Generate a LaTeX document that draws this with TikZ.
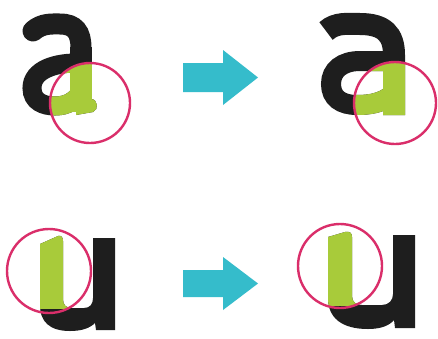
\documentclass[tikz,border=0pt]{standalone}
\definecolor{inkblack}{HTML}{1E1E1E}
\definecolor{limegreen}{HTML}{A8CB3A}
\definecolor{arrowteal}{HTML}{35BCCB}
\definecolor{ringpink}{HTML}{DA2E6A}
\tikzset{
  ring/.style={draw=ringpink, line width=2.4pt},
  bigarrow/.style={fill=arrowteal, draw=none},
}
% left "a" (humanist)
\newcommand{\leftA}[1]{%
  \draw[#1, line width=21pt, line cap=round]
    (33,31) .. controls (42,23) and (52,24) .. (60,24)
    .. controls (75,24) and (81,32) .. (81,48);
  \draw[#1, line width=22pt, line cap=butt] (81,47) -- (81,112);
  \draw[#1, line width=19pt]
    (82,63) .. controls (55,62) and (32,70) .. (32,88)
    .. controls (32,102) and (44,106) .. (55,106)
    .. controls (68,106) and (76,100) .. (81,92);
  \fill[#1] (76,99) -- (91,99) .. controls (98,99) and (99,110) .. (93,112)
    -- (76,115) -- cycle;
}
% right "a" (geometric)
\newcommand{\rightA}[1]{%
  \draw[#1, line width=22pt, line cap=butt]
    (326,31) .. controls (336,22) and (348,24) .. (360,24)
    .. controls (384,24) and (394,34) .. (394,55) -- (394,115);
  \draw[#1, line width=20pt]
    (395,61) -- (360,61) .. controls (342,61) and (331,70) .. (331,84)
    .. controls (331,98) and (341,105) .. (357,105)
    .. controls (376,105) and (388,100) .. (394,92);
}
% left "u"
\newcommand{\leftU}[1]{%
  \fill[#1] (40,244) -- (58,236) .. controls (61,235) and (63,237) .. (63,241)
    -- (63,299) .. controls (63,305) and (66,308) .. (72,308) -- (84,308)
    .. controls (90,308) and (93,304) .. (93,298) -- (93,238) -- (115,238)
    -- (115,330) -- (96,330) -- (95,323)
    .. controls (90,328) and (82,331) .. (70,331)
    .. controls (50,331) and (40,322) .. (40,305) -- cycle;
}
% right "u"
\newcommand{\rightU}[1]{%
  \fill[#1] (328,237) -- (345,232) .. controls (350,231) and (352,233) .. (352,237)
    -- (352,296) .. controls (352,302) and (356,305) .. (362,305) -- (382,305)
    .. controls (389,305) and (393,300) .. (393,294) -- (393,235) -- (415,235)
    -- (415,328) -- (395,328) -- (394,320)
    .. controls (389,326) and (380,329) .. (368,329)
    .. controls (342,329) and (328,318) .. (328,298) -- cycle;
}
\begin{document}
\begin{tikzpicture}[x=1pt, y=-1pt]
  \useasboundingbox[fill=white] (0,0) rectangle (438,338);
  % letters in black
  \leftA{inkblack}
  \rightA{inkblack}
  \leftU{inkblack}
  \rightU{inkblack}
  % green parts inside rings
  \begin{scope}
    \clip (90,103) circle[radius=40];
    \leftA{limegreen}
  \end{scope}
  \begin{scope}
    \clip (395,103) circle[radius=41];
    \rightA{limegreen}
  \end{scope}
  \begin{scope}
    \clip (49,271) circle[radius=42];
    \clip (0,0) rectangle (438,308);
    \leftU{limegreen}
  \end{scope}
  \begin{scope}
    \clip (340,266) circle[radius=42];
    \clip (0,0) rectangle (438,305);
    \rightU{limegreen}
  \end{scope}
  % rings
  \draw[ring] (90,103) circle[radius=40];
  \draw[ring] (395,103) circle[radius=41];
  \draw[ring] (49,271) circle[radius=42];
  \draw[ring] (340,266) circle[radius=42];
  % arrows
  \fill[bigarrow] (183,63) -- (223,63) -- (223,50) -- (258,77.5) -- (223,105)
    -- (223,92) -- (183,92) -- cycle;
  \fill[bigarrow] (183,270) -- (223,270) -- (223,257) -- (258,283.5) -- (223,310)
    -- (223,297) -- (183,297) -- cycle;
\end{tikzpicture}
\end{document}
